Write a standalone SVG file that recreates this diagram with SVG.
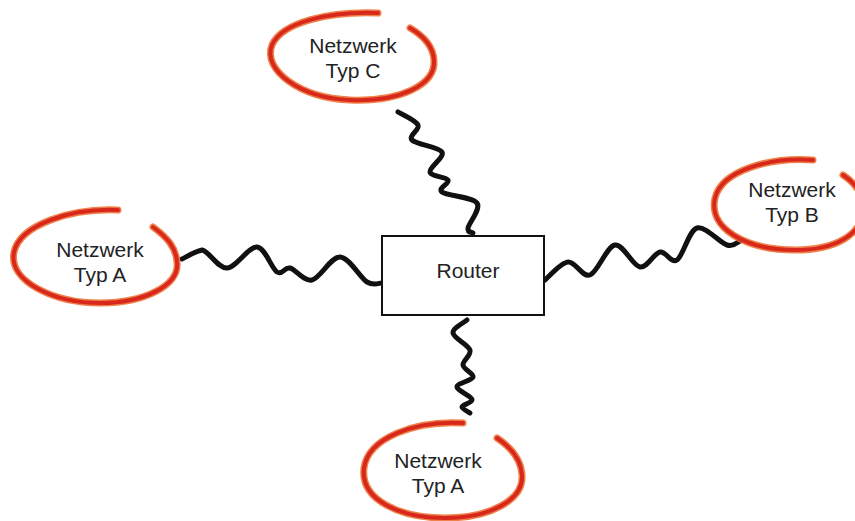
<svg xmlns="http://www.w3.org/2000/svg" width="855" height="521" viewBox="0 0 855 521">
<style>
.ring-o{fill:none;stroke:#ec6a2a;stroke-width:7;stroke-linecap:round;opacity:0.85}
.ring-r{fill:none;stroke:#d8281c;stroke-width:4;stroke-linecap:round}
.lbl{font-family:"Liberation Sans",Arial,sans-serif;font-size:21px;fill:#222;text-anchor:middle}
.wire{fill:none;stroke:#111;stroke-width:5;stroke-linecap:round;stroke-linejoin:round}
.box{fill:#fff;stroke:#111;stroke-width:2}
</style>
<rect width="855" height="521" fill="#fff"/>
<g id="connectors">
<path class="wire" d="M182,259 C185.3,257.5 194.5,251.5 202,250 C209.5,251.5 217.8,268.5 227,268 C236.2,267.5 248.7,246.3 257,247 C265.3,247.7 271.5,268.5 277,272 C282.5,275.5 284.2,266.7 290,268 C295.8,269.3 303.7,281.8 312,280 C320.3,278.2 330.8,256.7 340,257 C349.2,257.3 360,277.7 367,282 C374,286.3 379.5,282.8 382,283"/>
<path class="wire" d="M545,280 C548.8,277 560.5,262.8 568,262 C575.5,261.2 582.2,277.8 590,275 C597.8,272.2 606.7,246.3 615,245 C623.3,243.7 632.5,265.8 640,267 C647.5,268.2 653.8,253.2 660,252 C666.2,250.8 670.8,264 677,260 C683.2,256 688.7,230.5 697,228 C705.3,225.5 719.8,242.8 727,245 C734.2,247.2 737.8,241.7 740,241"/>
<path class="wire" d="M398,112 C401.3,114.2 415.7,120.3 418,125 C420.3,129.7 408,135.5 412,140 C416,144.5 439,146.7 442,152 C445,157.3 429,167.3 430,172 C431,176.7 446,176.7 448,180 C450,183.3 437.2,188.2 442,192 C446.8,195.8 472.7,197 477,203 C481.3,209 468.7,223 468,228 C467.3,233 472.2,232.2 473,233"/>
<path class="wire" d="M467,320 C464.7,322.2 452.5,328 453,333 C453.5,338 468.3,344.7 470,350 C471.7,355.3 462.5,360.5 463,365 C463.5,369.5 474,373.3 473,377 C472,380.7 456.8,383.2 457,387 C457.2,390.8 472.8,396.7 472,400 C471.2,403.3 461.7,404.8 462,407 C462.3,409.2 468.7,412 470,413"/>
</g>
<g id="router">
<rect class="box" x="382" y="236" width="162" height="79"/>
<text class="lbl" x="468" y="278" font-size="22">Router</text>
</g>
<g id="netC">
<path class="ring-o" d="M378,13 C330,11 282,22 272,45 C262,70 300,98 350,100 C400,102 436,85 434,60 C433,45 422,35 410,28"/>
<path class="ring-r" d="M378,13 C330,11 282,22 272,45 C262,70 300,98 350,100 C400,102 436,85 434,60 C433,45 422,35 410,28"/>
<text class="lbl" x="353" y="53">Netzwerk</text>
<text class="lbl" x="353" y="78">Typ C</text>
</g>
<g id="netA1">
<path class="ring-o" d="M118,210 C70,208 20,225 14,252 C8,282 55,303 100,303 C145,303 180,285 177,262 C176,248 168,238 153,227"/>
<path class="ring-r" d="M118,210 C70,208 20,225 14,252 C8,282 55,303 100,303 C145,303 180,285 177,262 C176,248 168,238 153,227"/>
<text class="lbl" x="100" y="257">Netzwerk</text>
<text class="lbl" x="100" y="282">Typ A</text>
</g>
<g id="netB">
<path class="ring-o" d="M813,160 C770,157 722,170 715,198 C708,228 745,250 795,250 C835,250 862,235 863,210 C864,195 855,183 843,175"/>
<path class="ring-r" d="M813,160 C770,157 722,170 715,198 C708,228 745,250 795,250 C835,250 862,235 863,210 C864,195 855,183 843,175"/>
<text class="lbl" x="792" y="197">Netzwerk</text>
<text class="lbl" x="792" y="222">Typ B</text>
</g>
<g id="netA2">
<path class="ring-o" d="M463,423 C415,420 368,438 364,468 C360,500 400,518 445,518 C490,518 524,500 522,475 C521,460 512,448 497,438"/>
<path class="ring-r" d="M463,423 C415,420 368,438 364,468 C360,500 400,518 445,518 C490,518 524,500 522,475 C521,460 512,448 497,438"/>
<text class="lbl" x="438" y="468">Netzwerk</text>
<text class="lbl" x="438" y="493">Typ A</text>
</g>
</svg>
